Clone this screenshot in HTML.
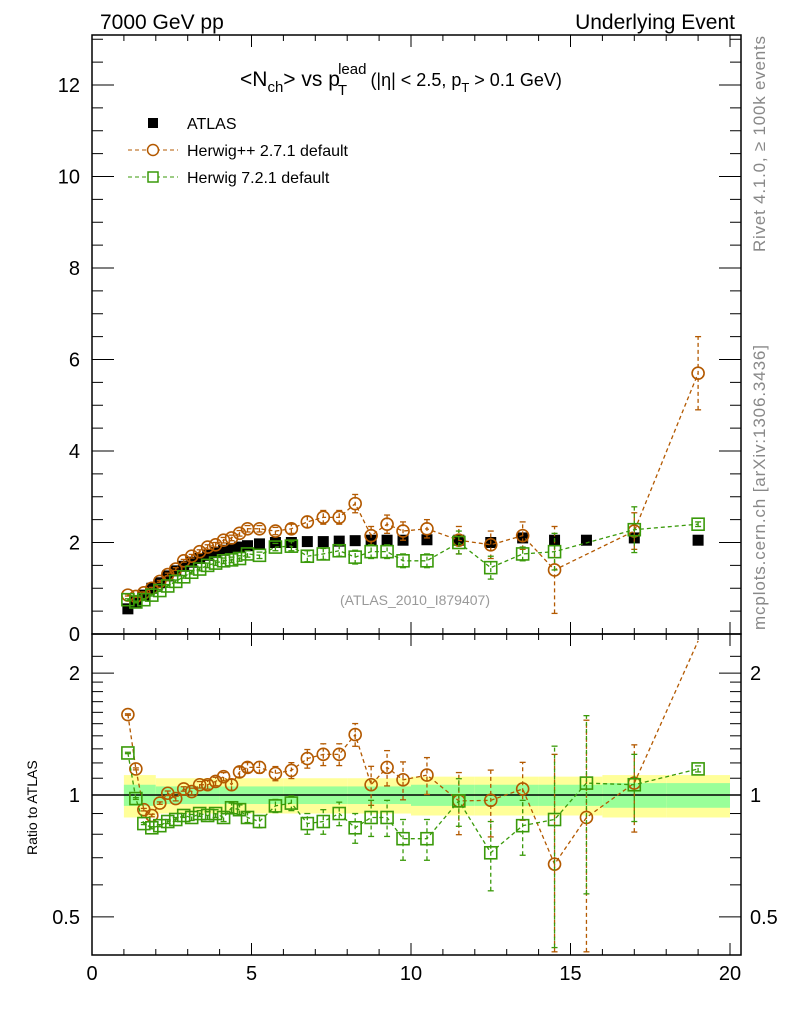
<!DOCTYPE html>
<html><head><meta charset="utf-8">
<style>
html,body{margin:0;padding:0;background:#fff;width:786px;height:1024px;overflow:hidden;}
svg{display:block;position:absolute;left:0;top:0;overflow:hidden;font-family:"Liberation Sans",sans-serif;}
</style></head>
<body>
<svg id="chart" width="786" height="1024" viewBox="0 0 786 1024" xmlns="http://www.w3.org/2000/svg">
<text x="100" y="29" font-size="21">7000 GeV pp</text>
<text x="735" y="29" font-size="21" text-anchor="end">Underlying Event</text>
<text x="240" y="86" font-size="21">&lt;N<tspan font-size="15" dy="6">ch</tspan><tspan dy="-6">&gt; vs p</tspan><tspan font-size="15" dy="9" dx="-2">T</tspan><tspan font-size="15" dy="-21" dx="-9">lead</tspan><tspan font-size="18" dy="12" dx="4">(|η| &lt; 2.5, p</tspan><tspan font-size="13" dy="6">T</tspan><tspan font-size="18" dy="-6"> &gt; 0.1 GeV)</tspan></text>
<text x="415" y="605" font-size="14" fill="#999" text-anchor="middle">(ATLAS_2010_I879407)</text>
<text transform="translate(765,252) rotate(-90)" font-size="17" fill="#888" textLength="216">Rivet 4.1.0, ≥ 100k events</text>
<text transform="translate(765,630) rotate(-90)" font-size="17" fill="#888" textLength="285">mcplots.cern.ch [arXiv:1306.3436]</text>
<text transform="translate(37,855) rotate(-90)" font-size="14">Ratio to ATLAS</text>
<g>
<rect x="148" y="118" width="10" height="10" fill="#000"/>
<text x="187" y="129" font-size="16">ATLAS</text>
<line x1="128" y1="150" x2="178" y2="150" stroke="#b35900" stroke-dasharray="4,3"/>
<circle cx="153" cy="150" r="5.5" fill="#fff" stroke="#b35900" stroke-width="1.5"/>
<text x="187" y="156" font-size="16">Herwig++ 2.7.1 default</text>
<line x1="128" y1="177" x2="178" y2="177" stroke="#3a9a0a" stroke-dasharray="4,3"/>
<rect x="148" y="172" width="10" height="10" fill="#fff" stroke="#3a9a0a" stroke-width="1.5"/>
<text x="187" y="183" font-size="16">Herwig 7.2.1 default</text>
</g>
<g id="plot"></g>
</svg>
<script>
const xs=[1.125,1.375,1.625,1.875,2.125,2.375,2.625,2.875,3.125,3.375,3.625,3.875,4.125,4.375,4.625,4.875,5.25,5.75,6.25,6.75,7.25,7.75,8.25,8.75,9.25,9.75,10.5,11.5,12.5,13.5,14.5,15.5,17,19];
const atlas=[0.55,0.7,0.85,1.0,1.12,1.27,1.38,1.48,1.57,1.65,1.72,1.78,1.83,1.87,1.9,1.93,1.97,2.0,2.0,2.02,2.02,2.03,2.04,2.05,2.05,2.05,2.06,2.05,2.0,2.1,2.05,2.05,2.1,2.05];
const hpp=[0.85,0.82,0.9,1.0,1.15,1.3,1.42,1.6,1.7,1.8,1.9,1.95,2.05,2.1,2.2,2.3,2.3,2.25,2.3,2.45,2.55,2.55,2.85,2.15,2.4,2.25,2.3,2.05,1.95,2.15,1.4,null,2.25,5.7];
const h7=[0.75,0.7,0.75,0.85,0.95,1.05,1.15,1.25,1.35,1.42,1.5,1.55,1.6,1.62,1.65,1.75,1.72,1.9,1.92,1.7,1.75,1.82,1.68,1.8,1.8,1.6,1.6,2.0,1.45,1.75,1.8,null,2.28,2.4];
const hppErr=[0.02,0.02,0.02,0.02,0.02,0.03,0.03,0.03,0.04,0.04,0.05,0.05,0.06,0.06,0.06,0.07,0.07,0.08,0.1,0.12,0.15,0.15,0.2,0.2,0.2,0.2,0.2,0.3,0.3,0.3,0.95,0,0.4,0.8];
const h7Err=[0.02,0.02,0.02,0.02,0.02,0.03,0.03,0.03,0.04,0.04,0.05,0.05,0.06,0.06,0.06,0.07,0.07,0.08,0.1,0.12,0.12,0.12,0.15,0.15,0.15,0.15,0.15,0.25,0.25,0.15,0.4,0,0.5,0.05];
const rHpp=[1.58,1.16,0.92,0.89,0.955,1.01,0.98,1.035,1.02,1.06,1.06,1.08,1.11,1.06,1.14,1.17,1.17,1.13,1.15,1.23,1.26,1.26,1.41,1.06,1.17,1.09,1.12,0.967,0.97,1.035,0.675,0.88,1.07,2.8];
const rH7=[1.27,0.98,0.85,0.83,0.84,0.86,0.87,0.89,0.88,0.9,0.89,0.9,0.88,0.93,0.92,0.88,0.86,0.94,0.955,0.85,0.86,0.9,0.83,0.88,0.88,0.78,0.78,0.967,0.72,0.84,0.87,1.07,1.06,1.16];
const rErr=[0.005,0.005,0.005,0.005,0.005,0.01,0.01,0.01,0.015,0.015,0.02,0.02,0.02,0.025,0.025,0.025,0.03,0.035,0.04,0.05,0.06,0.06,0.07,0.09,0.09,0.09,0.09,0.13,0.14,0.13,0.45,0.5,0.2,0.02];
const bandEdges=[1,2,4,6,8,10,12,14,16,18,20];
const bandYellow=[0.12,0.1,0.1,0.1,0.1,0.11,0.11,0.11,0.12,0.12];
const bandGreen=[0.06,0.05,0.05,0.05,0.05,0.06,0.06,0.06,0.07,0.07];
const mainTicks=[0,2,4,6,8,10,12];
const xTicks=[0,5,10,15,20];
const ratioTicks=[0.5,1,2];

const NS="http://www.w3.org/2000/svg";
const g=document.getElementById('plot');
const L=92,R=741,T=35,B=634,RT=634,RB=955;
const X=v=>L+v*(R-L-11)/20;
const Y=v=>B-v*(B-85)/12;
const YR=v=>795-405*Math.log10(v);
function el(t,a,parent){const e=document.createElementNS(NS,t);for(const k in a)e.setAttribute(k,a[k]);(parent||g).appendChild(e);return e;}
const cm=el('clipPath',{id:'cm'});el('rect',{x:L,y:T,width:R-L,height:B-T},cm);
const cr=el('clipPath',{id:'cr'});el('rect',{x:L,y:RT,width:R-L,height:RB-RT},cr);

for(let i=0;i<bandYellow.length;i++){
 const b=el('rect',{x:X(bandEdges[i]),width:X(bandEdges[i+1])-X(bandEdges[i]),y:YR(1+bandYellow[i]),height:YR(1-bandYellow[i])-YR(1+bandYellow[i]),fill:'#ffff99'});
 
 
 const c=el('rect',{x:X(bandEdges[i]),width:X(bandEdges[i+1])-X(bandEdges[i]),y:YR(1+bandGreen[i]),height:YR(1-bandGreen[i])-YR(1+bandGreen[i]),fill:'#99ff99'});
 
 
}
el('line',{x1:L,x2:R,y1:YR(1),y2:YR(1),stroke:'#000','stroke-width':1.5});

const f1=el('rect',{x:L,y:T,width:R-L,height:B-T,fill:'none',stroke:'#000','stroke-width':1.5});


const f2=el('rect',{x:L,y:RT,width:R-L,height:RB-RT,fill:'none',stroke:'#000','stroke-width':1.5});



for(let v=0;v<=20;v++){
 const len=v%5==0?12:6;
 for(const [yb,yt] of [[B,T],[RB,RT]]){
  el('line',{x1:X(v),x2:X(v),y1:yb,y2:yb-len,stroke:'#000'});
  el('line',{x1:X(v),x2:X(v),y1:yt,y2:yt+len,stroke:'#000'});
 }
}
xTicks.forEach(v=>{const t=el('text',{x:X(v),y:980,'font-size':20,'text-anchor':'middle'});t.textContent=v;
 
 });
for(let v=0;v<=13;v+=0.5){const y=Y(v);if(y<T)break;const len=v%2==0?22:11;
 el('line',{x1:L,x2:L+len,y1:y,y2:y,stroke:'#000'});el('line',{x1:R,x2:R-len,y1:y,y2:y,stroke:'#000'});}
mainTicks.forEach(v=>{const t=el('text',{x:80,y:Y(v)+7,'font-size':20,'text-anchor':'end'});t.textContent=v;
 
 });
[0.4,0.5,0.6,0.7,0.8,0.9,1,1.1,1.2,1.3,1.4,1.5,1.6,1.7,1.8,1.9,2,2.2].forEach(v=>{const y=YR(v);if(y<RT||y>RB)return;
 const len=ratioTicks.includes(v)?22:11;
 el('line',{x1:L,x2:L+len,y1:y,y2:y,stroke:'#000'});el('line',{x1:R,x2:R-len,y1:y,y2:y,stroke:'#000'});});
ratioTicks.forEach(v=>{const t=el('text',{x:80,y:YR(v)+7,'font-size':20,'text-anchor':'end'});t.textContent=v;
 
 
 const t2=el('text',{x:750,y:YR(v)+7,'font-size':20});t2.textContent=v;
 
 });

function series(vals,errs,yf,color,shape,clip,name,ymin,ymax){
 const grp=el('g',{'clip-path':'url(#'+clip+')'});
 
 
 let pts=[];
 xs.forEach((x,i)=>{if(vals[i]!=null)pts.push(X(x)+','+yf(Math.min(vals[i],ymax)));});
 el('polyline',{points:pts.join(' '),fill:'none',stroke:color,'stroke-width':1.3,'stroke-dasharray':'4,3'},grp);
 xs.forEach((x,i)=>{const v=vals[i];if(v==null||v>ymax)return;const cx=X(x),cy=yf(v);
  const e=errs[i];
  if(e>0){const y1=yf(Math.max(v-e,ymin)),y2=yf(Math.min(v+e,ymax));
   el('line',{x1:cx,x2:cx,y1:y1,y2:y2,stroke:color,'stroke-width':1.3,'stroke-dasharray':'4,3'},grp);
   el('line',{x1:cx-3,x2:cx+3,y1:y1,y2:y1,stroke:color,'stroke-width':1.3},grp);
   el('line',{x1:cx-3,x2:cx+3,y1:y2,y2:y2,stroke:color,'stroke-width':1.3},grp);}
  let m;
  if(shape=='c')m=el('circle',{cx:cx,cy:cy,r:6,fill:'none',stroke:color,'stroke-width':1.6},grp);
  else m=el('rect',{x:cx-6,y:cy-6,width:12,height:12,fill:'none',stroke:color,'stroke-width':1.6},grp);
  
  
 });
}
(function(){const grp=el('g',{});
 xs.forEach((x,i)=>{const m=el('rect',{x:X(x)-5.5,y:Y(atlas[i])-5.5,width:11,height:11,fill:'#000'},grp);
 
 });})();
series(hpp,hppErr,Y,'#b35900','c','cm','herwigpp-series',0.02,13);
series(h7,h7Err,Y,'#3a9a0a','s','cm','herwig7-series',0.02,13);
series(rHpp,rErr.map(e=>e*1.3),YR,'#b35900','c','cr','herwigpp-ratio',0.41,2.4);
series(rH7,rErr,YR,'#3a9a0a','s','cr','herwig7-ratio',0.41,2.4);
</script>
</body></html>
